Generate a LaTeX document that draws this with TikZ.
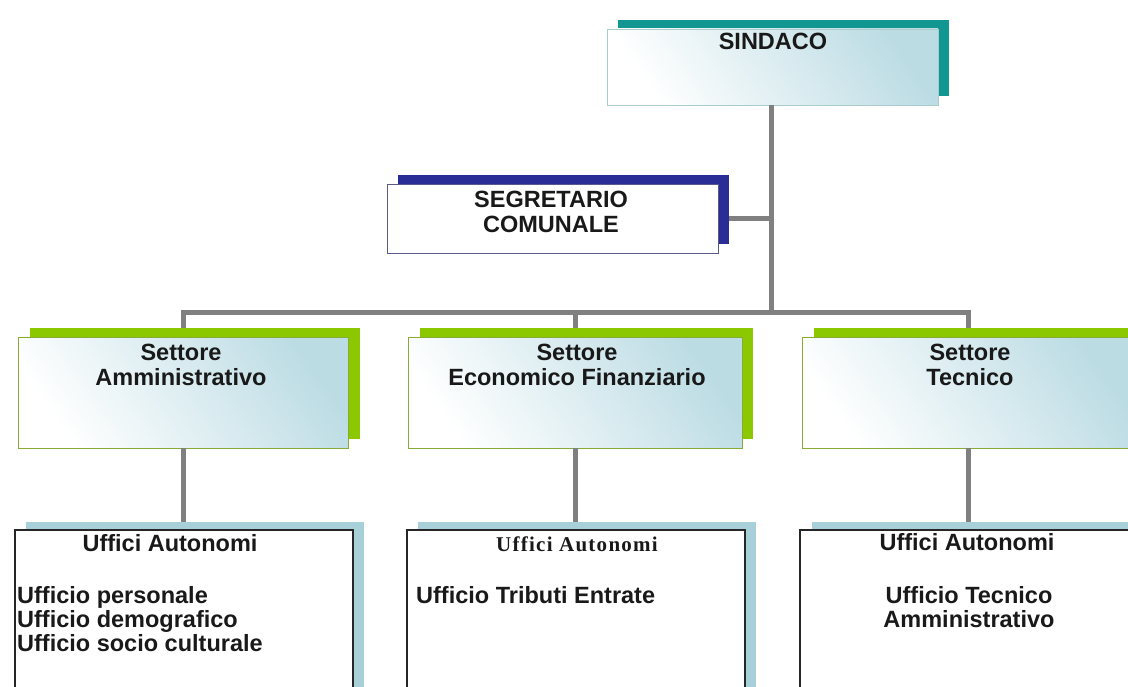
\documentclass[tikz,border=0pt]{standalone}
\usepackage{fontspec}
\setmainfont{Liberation Sans}
\newfontfamily\serifUA{Liberation Serif}
\definecolor{tealS}{RGB}{18,150,145}
\definecolor{navyS}{RGB}{43,45,150}
\definecolor{greenS}{RGB}{140,200,0}
\definecolor{blueS}{RGB}{168,208,216}
\definecolor{shadeB}{RGB}{188,220,228}
\definecolor{connG}{RGB}{128,128,128}
\definecolor{txt}{RGB}{25,25,25}
\tikzset{
  boxbase/.style={rectangle, inner sep=0pt, outer sep=0pt, anchor=north west},
  shadowbox/.style={boxbase, fill=#1, draw=none},
  gradbox/.style={boxbase, draw=#1, line width=0.9pt, left color=white, right color=shadeB, shading angle=125},
  whitebox/.style={boxbase, fill=white, draw=#1, line width=1pt},
  officebox/.style={boxbase, fill=white, draw=black!85, line width=1.5pt},
  conn/.style={draw=connG, line width=5pt},
  lbl/.style={anchor=base, align=center, inner sep=0pt, text=txt, font=\bfseries\fontsize{23.5}{25}\selectfont},
  lbll/.style={anchor=base west, align=left, inner sep=0pt, text=txt, font=\bfseries\fontsize{23.5}{24}\selectfont},
}
\begin{document}
\begin{tikzpicture}[x=1pt,y=-1pt]
\useasboundingbox (0,0) rectangle (1128,687);
\clip (0,0) rectangle (1128,687);
\fill[white] (0,0) rectangle (1128,687);

% shadows
\node[shadowbox=tealS, minimum width=331pt, minimum height=76pt] (sindS) at (618,20) {};
\node[shadowbox=navyS, minimum width=331pt, minimum height=69pt] (segS) at (398,175) {};
\node[shadowbox=greenS, minimum width=330pt, minimum height=111pt] (setLS) at (30,328) {};
\node[shadowbox=greenS, minimum width=333pt, minimum height=111pt] (setMS) at (420,328) {};
\node[shadowbox=greenS, minimum width=333pt, minimum height=111pt] (setRS) at (814,328) {};
\node[shadowbox=blueS, minimum width=338pt, minimum height=200pt] (uffLS) at (26,522) {};
\node[shadowbox=blueS, minimum width=338pt, minimum height=200pt] (uffMS) at (418,522) {};
\node[shadowbox=blueS, minimum width=338pt, minimum height=200pt] (uffRS) at (812,522) {};

\coordinate (busL) at (183,313);
\coordinate (busM) at (575,313);
\coordinate (busR) at (968,313);
\coordinate (segJ) at (771,219);

\node[gradbox={black!25!tealS!35}, minimum width=331pt, minimum height=76pt] (sind) at (607,29) {};
\node[whitebox={navyS!45!gray}, minimum width=331pt, minimum height=69pt] (seg) at (387,185) {};

\draw[conn] (sind.south -| segJ) -- (segJ |- busL);
\draw[conn] (segS.east |- segJ) -- (segJ);
\draw[conn] ([xshift=-2.5pt]busL) -- ([xshift=2.5pt]busR);
\draw[conn] (busL) -- (busL |- setLS.north);
\draw[conn] (busM) -- (busM |- setMS.north);
\draw[conn] (busR) -- (busR |- setRS.north);

% Settore front boxes
\node[gradbox={greenS!60!gray}, minimum width=330pt, minimum height=111pt] (setL) at (18,337) {};
\node[gradbox={greenS!60!gray}, minimum width=334pt, minimum height=111pt] (setM) at (408,337) {};
\node[gradbox={greenS!60!gray}, minimum width=333pt, minimum height=111pt] (setR) at (802,337) {};

\draw[conn] (setL.south) -- (setL.south |- uffLS.north);
\draw[conn] (setM.south) -- (setM.south |- uffMS.north);
\draw[conn] (setR.south) -- (setR.south |- uffRS.north);

% Uffici front boxes
\node[officebox, minimum width=338pt, minimum height=200pt] (uffL) at (15,530) {};
\node[officebox, minimum width=338pt, minimum height=200pt] (uffM) at (407,530) {};
\node[officebox, minimum width=338pt, minimum height=200pt] (uffR) at (800,530) {};

% texts (base anchor = baseline of last line)
\node[lbl] (tSind) at (773,50) {SINDACO};
\node[lbl] (tSeg) at (551,233) {SEGRETARIO\\COMUNALE};
\node[lbl] (tSetL) at (181,385) {Settore\\Amministrativo};
\node[lbl] (tSetM) at (577,385) {Settore\\Economico Finanziario};
\node[lbl] (tSetR) at (970,385) {Settore\\Tecnico};

\node[lbl] (uaL) at (170,551) {Uffici Autonomi};
\node[lbl, font=\serifUA\bfseries\fontsize{21}{24}\selectfont] (uaM) at (577,551) {\addfontfeature{LetterSpace=6}Uffici Autonomi};
\node[lbl] (uaR) at (967,550) {Uffici Autonomi};

\node[lbll] (uL) at (17,651) {Ufficio personale\\Ufficio demografico\\Ufficio socio culturale};
\node[lbll] (uM) at (416,603) {Ufficio Tributi Entrate};
\node[lbl, font=\bfseries\fontsize{23.5}{24}\selectfont] (uR) at (969,627) {Ufficio Tecnico\\Amministrativo};
\end{tikzpicture}
\end{document}
